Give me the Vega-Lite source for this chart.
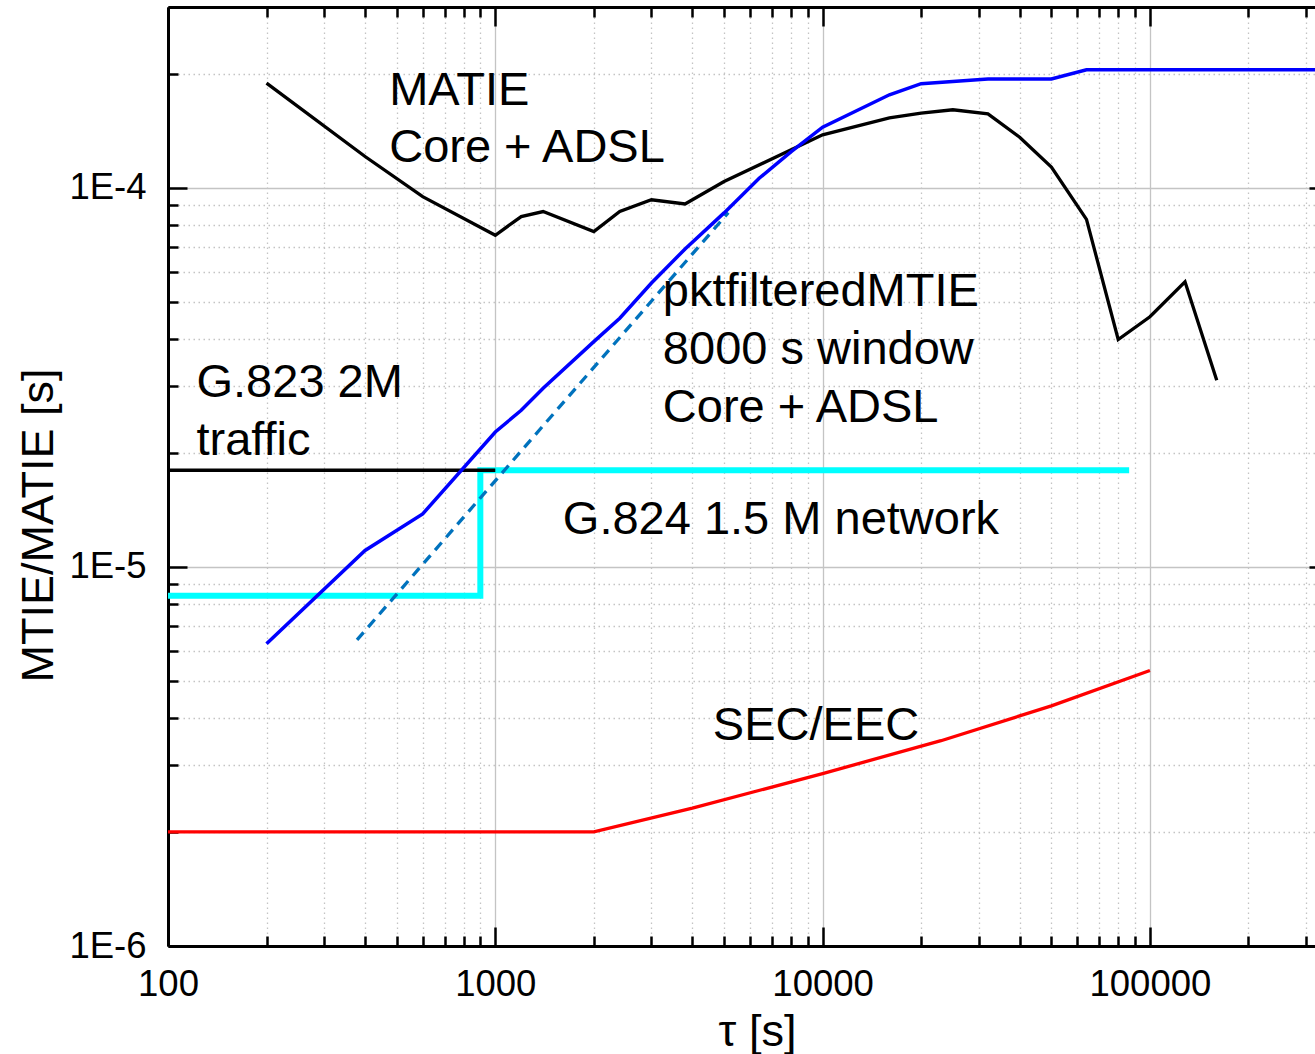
{
  "$schema": "https://vega.github.io/schema/vega-lite/v6.json",
  "autosize": {"type": "none"},
  "padding": {"left": 168, "top": 7, "right": -13, "bottom": 108},
  "width": 1160,
  "height": 939,
  "background": "white",
  "config": {"view": {"stroke": null}, "font": "Liberation Sans"},
  "datasets": {
    "curves": [
      {"s": "G824", "i": 1, "tau": 100, "v": 8.4e-6},
      {"s": "G824", "i": 2, "tau": 900, "v": 8.4e-6},
      {"s": "G824", "i": 3, "tau": 900, "v": 1.8e-5},
      {"s": "G824", "i": 4, "tau": 86400, "v": 1.8e-5},
      {"s": "G823", "i": 1, "tau": 100, "v": 1.8e-5},
      {"s": "G823", "i": 2, "tau": 1000, "v": 1.8e-5},
      {"s": "MATIE", "i": 1, "tau": 200, "v": 1.89e-4},
      {"s": "MATIE", "i": 2, "tau": 400, "v": 1.21e-4},
      {"s": "MATIE", "i": 3, "tau": 600, "v": 9.48e-5},
      {"s": "MATIE", "i": 4, "tau": 1000, "v": 7.5e-5},
      {"s": "MATIE", "i": 5, "tau": 1200, "v": 8.4e-5},
      {"s": "MATIE", "i": 6, "tau": 1400, "v": 8.66e-5},
      {"s": "MATIE", "i": 7, "tau": 2000, "v": 7.67e-5},
      {"s": "MATIE", "i": 8, "tau": 2400, "v": 8.66e-5},
      {"s": "MATIE", "i": 9, "tau": 3000, "v": 9.3e-5},
      {"s": "MATIE", "i": 10, "tau": 3800, "v": 9.07e-5},
      {"s": "MATIE", "i": 11, "tau": 5000, "v": 1.039e-4},
      {"s": "MATIE", "i": 12, "tau": 10000, "v": 1.38e-4},
      {"s": "MATIE", "i": 13, "tau": 16000, "v": 1.53e-4},
      {"s": "MATIE", "i": 14, "tau": 20000, "v": 1.575e-4},
      {"s": "MATIE", "i": 15, "tau": 25000, "v": 1.607e-4},
      {"s": "MATIE", "i": 16, "tau": 32000, "v": 1.568e-4},
      {"s": "MATIE", "i": 17, "tau": 40000, "v": 1.36e-4},
      {"s": "MATIE", "i": 18, "tau": 50000, "v": 1.134e-4},
      {"s": "MATIE", "i": 19, "tau": 64000, "v": 8.26e-5},
      {"s": "MATIE", "i": 20, "tau": 80000, "v": 3.98e-5},
      {"s": "MATIE", "i": 21, "tau": 100000, "v": 4.57e-5},
      {"s": "MATIE", "i": 22, "tau": 128000, "v": 5.65e-5},
      {"s": "MATIE", "i": 23, "tau": 160000, "v": 3.11e-5},
      {"s": "SEC", "i": 1, "tau": 100, "v": 2e-6},
      {"s": "SEC", "i": 2, "tau": 2000, "v": 2e-6},
      {"s": "SEC", "i": 3, "tau": 4000, "v": 2.31e-6},
      {"s": "SEC", "i": 4, "tau": 10000, "v": 2.85e-6},
      {"s": "SEC", "i": 5, "tau": 23000, "v": 3.48e-6},
      {"s": "SEC", "i": 6, "tau": 50000, "v": 4.3e-6},
      {"s": "SEC", "i": 7, "tau": 100000, "v": 5.33e-6},
      {"s": "DASH", "i": 1, "tau": 378, "v": 6.42e-6},
      {"s": "DASH", "i": 2, "tau": 5150, "v": 8.6e-5},
      {"s": "PKT", "i": 1, "tau": 200, "v": 6.27e-6},
      {"s": "PKT", "i": 2, "tau": 400, "v": 1.105e-5},
      {"s": "PKT", "i": 3, "tau": 600, "v": 1.38e-5},
      {"s": "PKT", "i": 4, "tau": 1000, "v": 2.27e-5},
      {"s": "PKT", "i": 5, "tau": 1200, "v": 2.59e-5},
      {"s": "PKT", "i": 6, "tau": 1400, "v": 2.96e-5},
      {"s": "PKT", "i": 7, "tau": 2000, "v": 3.93e-5},
      {"s": "PKT", "i": 8, "tau": 2400, "v": 4.53e-5},
      {"s": "PKT", "i": 9, "tau": 3000, "v": 5.61e-5},
      {"s": "PKT", "i": 10, "tau": 3800, "v": 6.9e-5},
      {"s": "PKT", "i": 11, "tau": 5000, "v": 8.59e-5},
      {"s": "PKT", "i": 12, "tau": 6400, "v": 1.06e-4},
      {"s": "PKT", "i": 13, "tau": 8000, "v": 1.245e-4},
      {"s": "PKT", "i": 14, "tau": 10000, "v": 1.446e-4},
      {"s": "PKT", "i": 15, "tau": 16000, "v": 1.76e-4},
      {"s": "PKT", "i": 16, "tau": 20000, "v": 1.883e-4},
      {"s": "PKT", "i": 17, "tau": 32000, "v": 1.937e-4},
      {"s": "PKT", "i": 18, "tau": 50000, "v": 1.937e-4},
      {"s": "PKT", "i": 19, "tau": 64000, "v": 2.05e-4},
      {"s": "PKT", "i": 20, "tau": 330000, "v": 2.05e-4}
    ],
    "labels": [
      {"text": "MATIE", "tau": 474, "v": 1.656e-4},
      {"text": "Core + ADSL", "tau": 474, "v": 1.171e-4},
      {"text": "pktfilteredMTIE", "tau": 3250, "v": 4.883e-5},
      {"text": "8000 s window", "tau": 3250, "v": 3.432e-5},
      {"text": "Core + ADSL", "tau": 3250, "v": 2.413e-5},
      {"text": "G.823 2M", "tau": 122.2, "v": 2.809e-5},
      {"text": "traffic", "tau": 122.2, "v": 1.974e-5},
      {"text": "G.824 1.5 M network", "tau": 1608, "v": 1.222e-5},
      {"text": "SEC/EEC", "tau": 4620, "v": 3.496e-6}
    ]
  },
  "layer": [
    {
      "data": {"name": "curves"},
      "transform": [{"filter": "datum.s == 'G824'"}],
      "mark": {"type": "line", "color": "#00FFFF", "strokeWidth": 6},
      "encoding": {
        "x": {
          "field": "tau", "type": "quantitative",
          "scale": {"type": "log", "domain": [100, 350000], "nice": false, "zero": false},
          "axis": {
            "orient": "bottom",
            "values": [100,200,300,400,500,600,700,800,900,1000,2000,3000,4000,5000,6000,7000,8000,9000,10000,20000,30000,40000,50000,60000,70000,80000,90000,100000,200000,300000],
            "labelExpr": "abs(log(datum.value)/LN10 - round(log(datum.value)/LN10)) < 0.001 ? format(datum.value, 'd') : ''",
            "labelFontSize": 36.5, "labelFont": "Liberation Sans", "labelColor": "black",
            "labelPadding": 39, "labelFlush": false, "labelOverlap": false, "labelBound": false,
            "labelBaseline": "top", "labelAlign": "center",
            "tickSize": {"condition": {"test": "abs(log(datum.value)/LN10 - round(log(datum.value)/LN10)) < 0.001", "value": -19}, "value": -10},
            "tickColor": "black", "tickWidth": 2.5,
            "domainColor": "black", "domainWidth": 3,
            "grid": true, "gridColor": "#c4c4c4", "gridWidth": 1.3,
            "gridDash": {"condition": {"test": "abs(log(datum.value)/LN10 - round(log(datum.value)/LN10)) < 0.001", "value": []}, "value": [1.5, 3.5]},
            "title": "τ [s]", "titleFontSize": 45, "titleFont": "Liberation Sans", "titleFontWeight": "normal", "titleColor": "black",
            "titleX": 589, "titleY": 99, "titleAlign": "center", "titleBaseline": "alphabetic"
          }
        },
        "y": {
          "field": "v", "type": "quantitative",
          "scale": {"type": "log", "domain": [1e-6, 3e-4], "nice": false, "zero": false},
          "axis": {
            "orient": "left",
            "values": [1e-6,2e-6,3e-6,4e-6,5e-6,6e-6,7e-6,8e-6,9e-6,1e-5,2e-5,3e-5,4e-5,5e-5,6e-5,7e-5,8e-5,9e-5,1e-4,2e-4,3e-4],
            "labelExpr": "abs(log(datum.value)/LN10 - round(log(datum.value)/LN10)) < 0.001 ? '1E' + round(log(datum.value)/LN10) : ''",
            "labelFontSize": 36.5, "labelFont": "Liberation Sans", "labelColor": "black",
            "labelPadding": 41, "labelFlush": false, "labelOverlap": false, "labelBound": false,
            "labelBaseline": "middle", "labelAlign": "right",
            "tickSize": {"condition": {"test": "abs(log(datum.value)/LN10 - round(log(datum.value)/LN10)) < 0.001", "value": -19}, "value": -10},
            "tickColor": "black", "tickWidth": 2.5,
            "domainColor": "black", "domainWidth": 3,
            "grid": true, "gridColor": "#c4c4c4", "gridWidth": 1.3,
            "gridDash": {"condition": {"test": "abs(log(datum.value)/LN10 - round(log(datum.value)/LN10)) < 0.001", "value": []}, "value": [1.5, 3.5]},
            "title": "MTIE/MATIE [s]", "titleFontSize": 45, "titleFont": "Liberation Sans", "titleFontWeight": "normal", "titleColor": "black",
            "titleAngle": 270, "titleX": -116, "titleY": 518, "titleAlign": "center", "titleBaseline": "alphabetic"
          }
        },
        "order": {"field": "i", "type": "quantitative"}
      }
    },
    {
      "data": {"name": "curves"},
      "transform": [{"filter": "datum.s == 'G823'"}],
      "mark": {"type": "line", "color": "black", "strokeWidth": 3.5},
      "encoding": {
        "x": {
          "field": "tau", "type": "quantitative",
          "scale": {"type": "log", "domain": [100, 350000], "nice": false, "zero": false},
          "axis": {
            "orient": "top",
            "values": [100,200,300,400,500,600,700,800,900,1000,2000,3000,4000,5000,6000,7000,8000,9000,10000,20000,30000,40000,50000,60000,70000,80000,90000,100000,200000,300000],
            "labels": false, "grid": false, "title": null,
            "tickSize": {"condition": {"test": "abs(log(datum.value)/LN10 - round(log(datum.value)/LN10)) < 0.001", "value": -19}, "value": -10},
            "tickColor": "black", "tickWidth": 2.5,
            "domainColor": "black", "domainWidth": 3
          }
        },
        "y": {
          "field": "v", "type": "quantitative",
          "scale": {"type": "log", "domain": [1e-6, 3e-4], "nice": false, "zero": false},
          "axis": {
            "orient": "right",
            "values": [1e-6,2e-6,3e-6,4e-6,5e-6,6e-6,7e-6,8e-6,9e-6,1e-5,2e-5,3e-5,4e-5,5e-5,6e-5,7e-5,8e-5,9e-5,1e-4,2e-4,3e-4],
            "labels": false, "grid": false, "title": null,
            "tickSize": {"condition": {"test": "abs(log(datum.value)/LN10 - round(log(datum.value)/LN10)) < 0.001", "value": -19}, "value": -10},
            "tickColor": "black", "tickWidth": 2.5,
            "domainColor": "black", "domainWidth": 3
          }
        },
        "order": {"field": "i", "type": "quantitative"}
      }
    },
    {
      "data": {"name": "curves"},
      "transform": [{"filter": "datum.s == 'MATIE'"}],
      "mark": {"type": "line", "color": "black", "strokeWidth": 3.3},
      "encoding": {
        "x": {"field": "tau", "type": "quantitative", "axis": null},
        "y": {"field": "v", "type": "quantitative", "axis": null},
        "order": {"field": "i", "type": "quantitative"}
      }
    },
    {
      "data": {"name": "curves"},
      "transform": [{"filter": "datum.s == 'SEC'"}],
      "mark": {"type": "line", "color": "#FF0000", "strokeWidth": 3.3},
      "encoding": {
        "x": {"field": "tau", "type": "quantitative", "axis": null},
        "y": {"field": "v", "type": "quantitative", "axis": null},
        "order": {"field": "i", "type": "quantitative"}
      }
    },
    {
      "data": {"name": "curves"},
      "transform": [{"filter": "datum.s == 'DASH'"}],
      "mark": {"type": "line", "color": "#0072BD", "strokeWidth": 3.3, "strokeDash": [10, 7]},
      "encoding": {
        "x": {"field": "tau", "type": "quantitative", "axis": null},
        "y": {"field": "v", "type": "quantitative", "axis": null},
        "order": {"field": "i", "type": "quantitative"}
      }
    },
    {
      "data": {"name": "curves"},
      "transform": [{"filter": "datum.s == 'PKT'"}],
      "mark": {"type": "line", "color": "#0000FF", "strokeWidth": 3.5},
      "encoding": {
        "x": {"field": "tau", "type": "quantitative", "axis": null},
        "y": {"field": "v", "type": "quantitative", "axis": null},
        "order": {"field": "i", "type": "quantitative"}
      }
    },
    {
      "data": {"name": "labels"},
      "mark": {"type": "text", "align": "left", "baseline": "alphabetic", "font": "Liberation Sans", "fontSize": 47, "color": "black"},
      "encoding": {
        "x": {"field": "tau", "type": "quantitative", "axis": null},
        "y": {"field": "v", "type": "quantitative", "axis": null},
        "text": {"field": "text"}
      }
    }
  ],
  "resolve": {"axis": {"x": "independent", "y": "independent"}}
}
